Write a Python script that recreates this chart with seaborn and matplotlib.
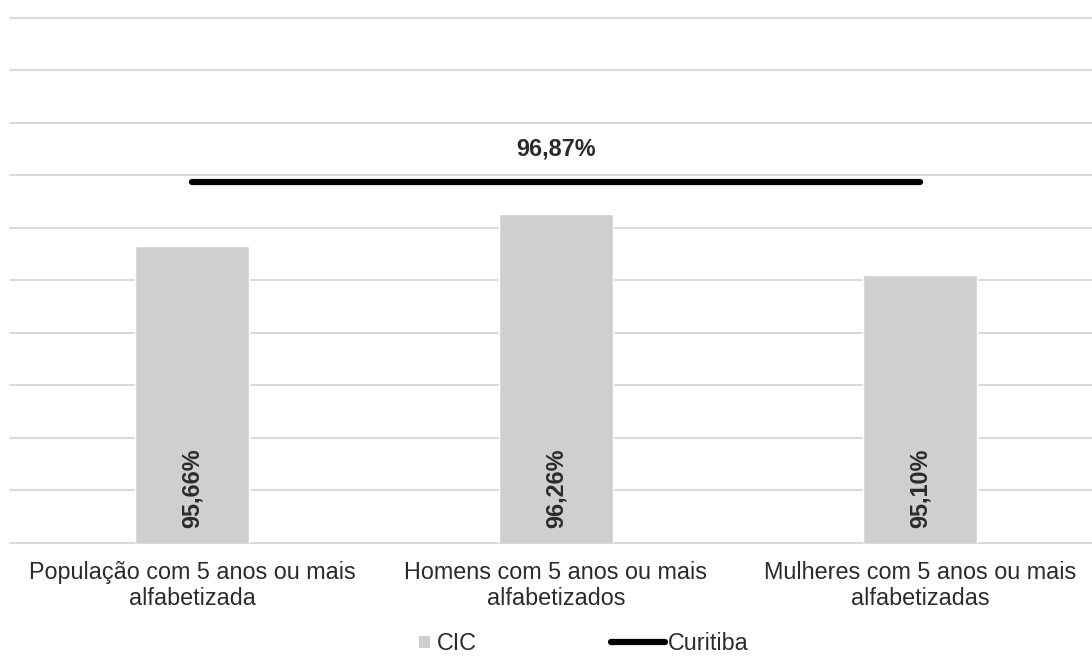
import matplotlib
matplotlib.use("Agg")
import matplotlib.pyplot as plt
from matplotlib.lines import Line2D
from matplotlib.patches import Patch
import pandas as pd
import seaborn as sns

# Literacy rates (%), population aged 5 or more
categorias = [
    "População com 5 anos ou mais\nalfabetizada",
    "Homens com 5 anos ou mais\nalfabetizados",
    "Mulheres com 5 anos ou mais\nalfabetizadas",
]
cic = [95.66, 96.26, 95.10]
curitiba = [96.87, 96.87, 96.87]

df = pd.DataFrame({"categoria": categorias, "CIC": cic, "Curitiba": curitiba})

sns.set_style("white")
plt.rcParams["font.family"] = ["Liberation Sans", "DejaVu Sans"]

BAR_COLOR = "#D0CED0"
GRID_COLOR = "#D9D9D9"
TEXT_COLOR = "#2B2B2B"
FS = 16.8

W, H = 1092, 657
fig = plt.figure(figsize=(W / 100, H / 100), dpi=100)
left_px, right_px, top_px, bottom_px = 10, 1102, 17.7, 542.7
ax = fig.add_axes([left_px / W, 1 - bottom_px / H,
                   (right_px - left_px) / W, (bottom_px - top_px) / H])

sns.barplot(data=df, x="categoria", y="CIC", color=BAR_COLOR, saturation=1,
            width=0.313, ax=ax, zorder=2)
sns.lineplot(x=[0, 1, 2], y=df["Curitiba"], color="black", linewidth=4.5,
             ax=ax, zorder=3, solid_capstyle="round")

ax.set_xlim(-0.5, 2.5)
ax.set_ylim(90, 100)
ax.set_yticks(range(90, 101))
ax.set_yticklabels([])
ax.grid(axis="y", color=GRID_COLOR, linewidth=1.4)
ax.grid(axis="x", visible=False)
for gl in ax.get_ygridlines():
    gl.set_clip_on(False)
ax.set_axisbelow(True)
for s in ax.spines.values():
    s.set_visible(False)
ax.set_xlabel("")
ax.set_ylabel("")
ax.tick_params(axis="both", length=0)
ax.tick_params(axis="x", pad=13, labelsize=FS, labelcolor=TEXT_COLOR)

# Rotated value labels at the base of each bar
for i, v in enumerate(df["CIC"]):
    ax.annotate(f"{v:.2f}%".replace(".", ","), xy=(i, 90), xytext=(0, 10.5),
                textcoords="offset points", rotation=90, ha="center",
                va="bottom", fontsize=FS, fontweight="bold", color=TEXT_COLOR,
                zorder=4)

# Curitiba reference value above the line
ax.annotate(f"{df['Curitiba'][1]:.2f}%".replace(".", ","),
            xy=(1, df["Curitiba"][1]), xytext=(0, 24),
            textcoords="offset points", ha="center", va="center",
            fontsize=FS, fontweight="bold", color=TEXT_COLOR)

# Legend: two entries placed along the bottom
legend_y = 1 - 644 / H
fig.legend(handles=[Patch(facecolor=BAR_COLOR, edgecolor="none", label="CIC")],
           loc="center left", bbox_to_anchor=(419 / W, legend_y),
           frameon=False, fontsize=FS, handlelength=0.45,
           handleheight=0.45, handletextpad=0.3, borderpad=0,
           borderaxespad=0, labelcolor=TEXT_COLOR)
fig.legend(handles=[Line2D([], [], color="black", linewidth=4.5, label="Curitiba")],
           loc="center left", bbox_to_anchor=(611 / W, legend_y),
           frameon=False, fontsize=FS, handlelength=2.3,
           handletextpad=0.15, borderpad=0, borderaxespad=0,
           labelcolor=TEXT_COLOR)

fig.savefig("out.png", dpi=100)
